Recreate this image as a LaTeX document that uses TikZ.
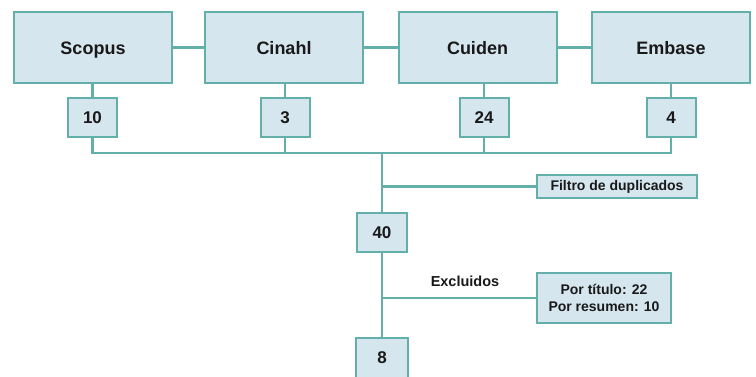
\documentclass[tikz,border=0pt]{standalone}
\usepackage{fontspec}
\setmainfont{Liberation Sans}
\definecolor{boxfill}{HTML}{D6E6EE}
\definecolor{boxline}{HTML}{63AFAA}
\begin{document}
\begin{tikzpicture}[x=1pt,y=-1pt,
  base/.style={draw=boxline,fill=boxfill,line width=2pt,inner sep=0pt,font=\bfseries,text=black!90},
  dbbox/.style={base,minimum width=158pt,minimum height=71pt,text height=13pt,text depth=0pt,font=\fontsize{18}{21}\bfseries\selectfont},
  numbox/.style={base,minimum width=49pt,minimum height=39pt,text height=12pt,text depth=0pt,font=\fontsize{17}{20}\bfseries\selectfont},
  infobox/.style={base,font=\fontsize{14}{17}\bfseries\selectfont,align=center},
  link/.style={draw=boxline,line width=2.2pt}]
\clip (0,0) rectangle (756,376);
\fill[white] (0,0) rectangle (756,376);
% databases
\node[dbbox] (scopus) at (93,47.5) {Scopus};
\node[dbbox] (cinahl) at (284,47.5) {Cinahl};
\node[dbbox] (cuiden) at (477.5,47.5) {Cuiden};
\node[dbbox] (embase) at (671,47.5) {Embase};
% counts
\node[numbox] (n10) at (92.5,117.5) {10};
\node[numbox] (n3) at (285,117.5) {3};
\node[numbox] (n24) at (484,117.5) {24};
\node[numbox] (n4) at (671,117.5) {4};
\coordinate (j) at (382,153);
\node[infobox,minimum width=160pt,minimum height=23pt] (filtro) at (617,186.5) {Filtro de duplicados};
\node[numbox,minimum width=50pt] (n40) at (382,232.5) {40};
\node[infobox,minimum width=134pt,minimum height=50pt] (excl) at (604,298) {Por título: 22\\Por resumen: 10};
\node[font=\fontsize{14.5}{17}\bfseries\selectfont,text=black!90] (exlab) at (465,281) {Excluidos};
\node[numbox,minimum width=52pt,minimum height=42pt] (n8) at (382,359) {};
\node[font=\fontsize{17}{20}\bfseries\selectfont,text=black!90] (n8t) at (382,358) {8};
% connectors
\path[link] (scopus.east) -- (cinahl.west);
\path[link] (cinahl.east) -- (cuiden.west);
\path[link] (cuiden.east) -- (embase.west);
\path[link] (n10.north) -- (n10.north |- scopus.south);
\path[link] (n3.north) -- (n3.north |- cinahl.south);
\path[link] (n24.north) -- (n24.north |- cuiden.south);
\path[link] (n4.north) -- (n4.north |- embase.south);
\path[link] (n10.south) |- (j) -| (n4.south);
\path[link] (n3.south) -- (n3.south |- j);
\path[link] (n24.south) -- (n24.south |- j);
\path[link] (j) -- (n40.north);
\path[link] (j |- filtro.west) -- (filtro.west);
\path[link] (n40.south) -- (n8.north);
\path[link] (n40.south |- excl.west) -- (excl.west);
\end{tikzpicture}
\end{document}
